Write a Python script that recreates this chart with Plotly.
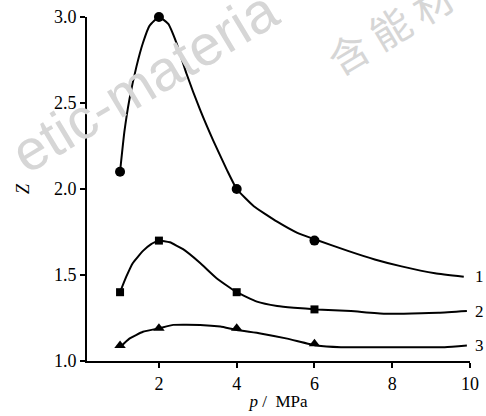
import plotly.graph_objects as go

# marker data (p in MPa, Z)
p_marks = [1, 2, 4, 6]
z1_marks = [2.10, 3.00, 2.00, 1.70]
z2_marks = [1.40, 1.70, 1.40, 1.30]
z3_marks = [1.09, 1.19, 1.19, 1.10]

# curve traces
p1 = [1.0, 1.11, 1.24, 1.42, 1.59, 1.76, 2.0, 2.24, 2.45, 2.71, 3.06, 3.40, 3.75, 4.0,
      4.44, 5.04, 5.56, 6.04, 6.86, 7.55, 8.24, 9.10, 9.84]
z1 = [2.10, 2.33, 2.52, 2.71, 2.85, 2.95, 3.0, 2.96, 2.85, 2.67, 2.46, 2.28, 2.11, 2.0,
      1.90, 1.81, 1.745, 1.705, 1.64, 1.59, 1.55, 1.51, 1.49]
p2 = [1.0, 1.16, 1.33, 1.59, 1.80, 2.0, 2.28, 2.62, 3.06, 3.49, 4.0, 4.52, 5.04, 5.47,
      6.06, 6.94, 7.81, 9.19, 9.92]
z2 = [1.40, 1.49, 1.57, 1.64, 1.68, 1.70, 1.69, 1.65, 1.57, 1.48, 1.40, 1.345, 1.32, 1.31,
      1.30, 1.29, 1.275, 1.28, 1.29]
p3 = [1.0, 1.24, 1.59, 2.0, 2.37, 3.06, 3.58, 4.0, 4.61, 5.30, 6.06, 6.68, 7.98, 9.35, 9.92]
z3 = [1.08, 1.13, 1.17, 1.19, 1.21, 1.21, 1.20, 1.18, 1.16, 1.13, 1.09, 1.08, 1.08, 1.08, 1.09]

curve_labels = ["1", "2", "3"]
label_z = [1.49, 1.29, 1.09]

x_ticks = [2, 4, 6, 8, 10]
y_ticks = [1.0, 1.5, 2.0, 2.5, 3.0]

fig = go.Figure()

# faint watermark (drawn below data)
wm_color = "rgb(214,214,214)"
fig.add_annotation(xref="paper", yref="paper", x=0.15, y=0.815, text="etic-materia",
                   showarrow=False, textangle=-31, xanchor="center", yanchor="middle",
                   font=dict(family="Liberation Sans", size=57, color=wm_color))
fig.add_annotation(xref="paper", yref="paper", x=0.79, y=0.97, text="含 能 材",
                   showarrow=False, textangle=-31, xanchor="center", yanchor="middle",
                   font=dict(family="Noto Sans CJK SC", size=40, color=wm_color))

line_style = dict(color="black", width=2, shape="spline", smoothing=0.4)
for px, pz in [(p1, z1), (p2, z2), (p3, z3)]:
    fig.add_trace(go.Scatter(x=px, y=pz, mode="lines", line=line_style,
                             showlegend=False, hoverinfo="skip", cliponaxis=False))

for mz, sym, sz in [(z1_marks, "circle", 10), (z2_marks, "square", 8), (z3_marks, "triangle-up", 10)]:
    fig.add_trace(go.Scatter(x=p_marks, y=mz, mode="markers",
                             marker=dict(symbol=sym, size=sz, color="black"),
                             showlegend=False, cliponaxis=False))

font_serif = "Liberation Serif"

for lab, lz in zip(curve_labels, label_z):
    fig.add_annotation(x=9.99, y=lz, text=lab, showarrow=False, xanchor="left",
                       xshift=3, font=dict(family=font_serif, size=17, color="black"))

fig.update_layout(
    width=486, height=416,
    margin=dict(l=87, r=16, t=17, b=55, autoexpand=False),
    paper_bgcolor="white", plot_bgcolor="rgba(0,0,0,0)",
    font=dict(family=font_serif, size=17, color="black"),
    xaxis=dict(range=[0.15, 10.0], tickvals=x_ticks, ticktext=[str(v) for v in x_ticks],
               showgrid=False, zeroline=False, showline=True, linecolor="black", linewidth=2,
               ticks="outside", ticklen=5, tickwidth=1.5, tickcolor="black",
               tickfont=dict(family=font_serif, size=18),
               title=dict(text="<i>p</i> /  MPa", standoff=3, font=dict(family=font_serif, size=17))),
    yaxis=dict(range=[1.0, 3.0], tickvals=y_ticks, ticktext=[f"{v:.1f}" for v in y_ticks],
               showgrid=False, zeroline=False, showline=True, linecolor="black", linewidth=2,
               ticks="outside", ticklen=5, tickwidth=1.5, tickcolor="black",
               tickfont=dict(family=font_serif, size=18),
               title=dict(text="<i>Z</i>", standoff=20, font=dict(family=font_serif, size=18))),
)

# remove the default 8px page margin so the figure fills the window exactly
fig.write_html("out.html", config={"displayModeBar": False},
               post_script="document.body.style.margin='0';document.body.style.overflow='hidden';")
